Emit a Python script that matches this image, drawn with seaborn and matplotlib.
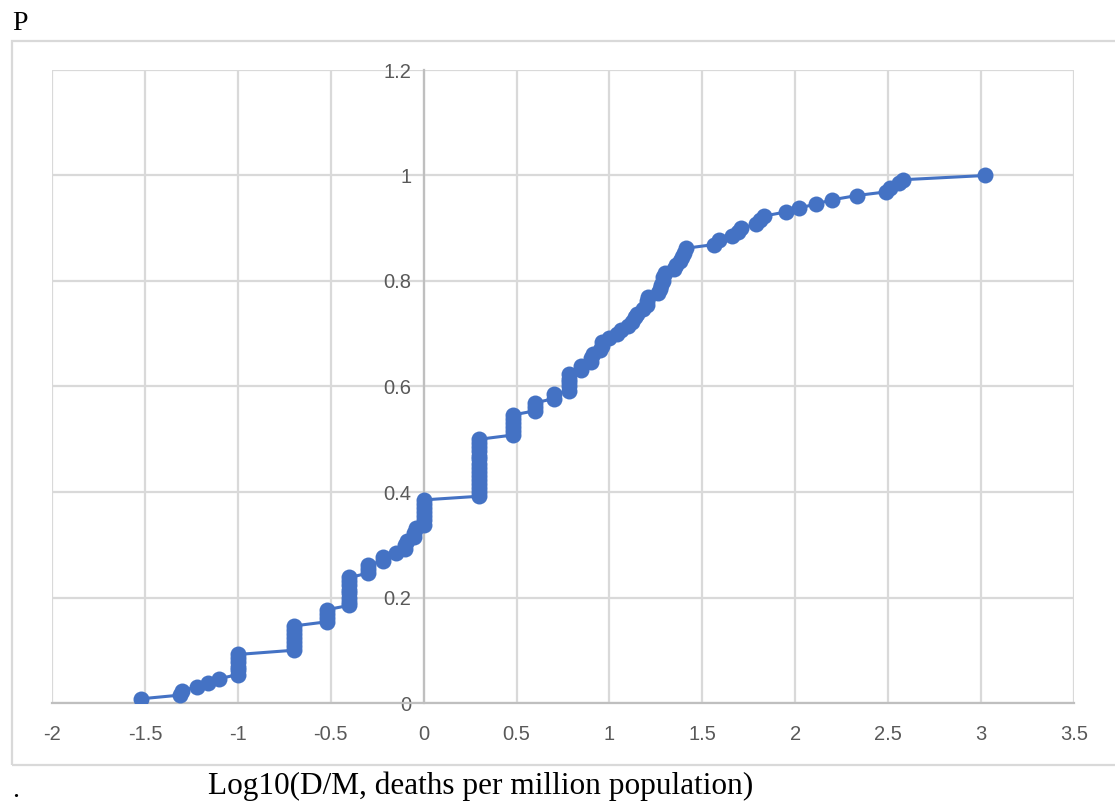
import matplotlib
matplotlib.use("Agg")
import matplotlib.pyplot as plt
import seaborn as sns
import pandas as pd
from matplotlib.patches import Rectangle

# log10 of deaths per million, one value per country, in ascending order
log_dm = [
    -1.52,
    -1.31, -1.30,
    -1.22,
    -1.16,
    -1.10,
    -1.00, -1.00, -1.00, -1.00, -1.00, -1.00,
    -0.70, -0.70, -0.70, -0.70, -0.70, -0.70, -0.70,
    -0.52, -0.52, -0.52, -0.52,
    -0.40, -0.40, -0.40, -0.40, -0.40, -0.40, -0.40, -0.40,
    -0.30, -0.30, -0.30,
    -0.22, -0.22,
    -0.15,
    -0.10, -0.10, -0.09,
    -0.05, -0.05, -0.04,
    0.00, 0.00, 0.00, 0.00, 0.00, 0.00, 0.00,
    0.30, 0.30, 0.30, 0.30, 0.30, 0.30, 0.30, 0.30,
    0.30, 0.30, 0.30, 0.30, 0.30, 0.30, 0.30,
    0.48, 0.48, 0.48, 0.48, 0.48, 0.48,
    0.60, 0.60, 0.60,
    0.70, 0.70,
    0.78, 0.78, 0.78, 0.78, 0.78,
    0.845, 0.845,
    0.90, 0.90, 0.91,
    0.95, 0.96, 0.96,
    1.00, 1.04, 1.06,
    1.10, 1.12, 1.14, 1.15,
    1.18, 1.20, 1.20, 1.21,
    1.26, 1.27, 1.28, 1.29,
    1.29, 1.30,
    1.35, 1.36, 1.38, 1.39, 1.40, 1.41,
    1.56, 1.59,
    1.66, 1.69, 1.71,
    1.79, 1.81, 1.83,
    1.95,
    2.02,
    2.11,
    2.20,
    2.33,
    2.49, 2.51,
    2.56, 2.58,
    3.02,
]

# cumulative probability P for each country
prob = [
    0.008,
    0.015, 0.023,
    0.031,
    0.038,
    0.046,
    0.054, 0.062, 0.069, 0.077, 0.085, 0.092,
    0.100, 0.108, 0.115, 0.123, 0.131, 0.138, 0.146,
    0.154, 0.162, 0.169, 0.177,
    0.185, 0.192, 0.200, 0.208, 0.215, 0.223, 0.231, 0.238,
    0.246, 0.254, 0.262,
    0.269, 0.277,
    0.285,
    0.292, 0.300, 0.308,
    0.315, 0.323, 0.331,
    0.338, 0.346, 0.354, 0.362, 0.369, 0.377, 0.385,
    0.392, 0.400, 0.408, 0.415, 0.423, 0.431, 0.438, 0.446,
    0.454, 0.462, 0.469, 0.477, 0.485, 0.492, 0.500,
    0.508, 0.515, 0.523, 0.531, 0.538, 0.546,
    0.554, 0.562, 0.569,
    0.577, 0.585,
    0.592, 0.600, 0.608, 0.615, 0.623,
    0.631, 0.638,
    0.646, 0.654, 0.662,
    0.669, 0.677, 0.685,
    0.692, 0.700, 0.708,
    0.715, 0.723, 0.731, 0.738,
    0.746, 0.754, 0.762, 0.769,
    0.777, 0.785, 0.792, 0.800,
    0.808, 0.815,
    0.823, 0.831, 0.838, 0.846, 0.854, 0.862,
    0.869, 0.877,
    0.885, 0.892, 0.900,
    0.908, 0.915, 0.923,
    0.931,
    0.938,
    0.946,
    0.954,
    0.962,
    0.969, 0.977,
    0.985, 0.992,
    1.000,
]

x_ticks = [-2, -1.5, -1, -0.5, 0, 0.5, 1, 1.5, 2, 2.5, 3, 3.5]
x_tick_labels = ["-2", "-1.5", "-1", "-0.5", "0", "0.5", "1", "1.5", "2", "2.5", "3", "3.5"]
y_ticks = [0, 0.2, 0.4, 0.6, 0.8, 1.0, 1.2]
y_tick_labels = ["0", "0.2", "0.4", "0.6", "0.8", "1", "1.2"]

df = pd.DataFrame({"logdm": log_dm, "P": prob})

sns.set_theme(style="white")
plt.rcParams["font.family"] = ["Liberation Sans Narrow", "Liberation Sans", "DejaVu Sans"]

W, H = 1115, 805
fig = plt.figure(figsize=(W / 100, H / 100), dpi=100)
ax = fig.add_axes([52 / W, 1 - 703 / H, (1074 - 52) / W, (703 - 70) / H])

grid_c = "#d9d9d9"
axis_c = "#bfbfbf"
blue = "#4472C4"

sns.lineplot(data=df, x="logdm", y="P", ax=ax, estimator=None, sort=False,
             color=blue, linewidth=2.2, marker="o", markersize=11.5,
             markeredgewidth=0, markerfacecolor=blue, zorder=3)

ax.set_xlim(-2, 3.5)
ax.set_ylim(0, 1.2)
ax.set_xticks(x_ticks)
ax.set_xticklabels(x_tick_labels)
ax.set_yticks(y_ticks)
ax.set_yticklabels(y_tick_labels)
ax.set_xlabel("")
ax.set_ylabel("")

ax.set_axisbelow(True)
ax.grid(True, color=grid_c, linewidth=1.6)
for s in ["top", "right"]:
    ax.spines[s].set_visible(False)
ax.spines["left"].set_position(("data", 0))
ax.spines["left"].set_color(axis_c)
ax.spines["left"].set_linewidth(1.6)
ax.spines["left"].set_zorder(1)
ax.spines["bottom"].set_color(axis_c)
ax.spines["bottom"].set_linewidth(1.6)

ax.tick_params(axis="x", length=0, pad=16, labelsize=14.5, labelcolor="#595959")
ax.tick_params(axis="y", length=0, pad=9, labelsize=14.5, labelcolor="#595959")

# chart frame
fig.add_artist(Rectangle((12 / W, 1 - 765 / H), 1.0, (765 - 41) / H,
                         transform=fig.transFigure, fill=False,
                         edgecolor=grid_c, linewidth=1.6))

serif = ["Liberation Serif", "DejaVu Serif"]
fig.text(12 / W, 1 - 24 / H, "P", ha="left", va="center", family=serif,
         fontsize=20, color="black")
fig.text(481 / W, 1 - 786 / H, "Log10(D/M, deaths per million population)",
         ha="center", va="center", family=serif, fontsize=22.5, color="black")
fig.text(12 / W, 1 - 790 / H, ".", ha="left", va="center", family=serif,
         fontsize=20, color="black")

fig.savefig("out.png", dpi=100)
